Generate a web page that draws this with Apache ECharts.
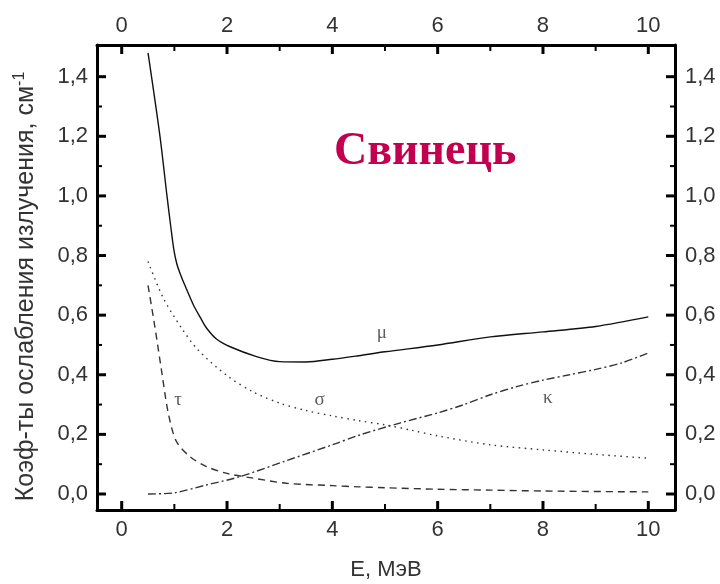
<!DOCTYPE html>
<html><head><meta charset="utf-8">
<script src="https://cdn.jsdelivr.net/npm/echarts@6/dist/echarts.min.js"></script>
<style>html,body{margin:0;padding:0;background:#fff}#c{width:720px;height:584px}</style>
</head><body><div id="c"></div>
<script>
// Energy E (MeV) and attenuation coefficients (cm^-1) for lead
var muData = [[0.5,1.48],[0.727,1.20],[0.86,1.00],[0.93,0.90],[0.99,0.82],[1.05,0.77],[1.12,0.735],[1.2,0.70],[1.36,0.635],[1.5,0.59],[1.61,0.557],[1.8,0.52],[2.06,0.494],[2.56,0.461],[3,0.444],[3.5,0.443],[4,0.452],[4.5,0.464],[5,0.477],[6,0.50],[7,0.527],[8,0.544],[9,0.562],[10,0.594]];
var sigmaData = [[0.5,0.78],[0.79,0.657],[1.14,0.556],[1.45,0.483],[2,0.397],[2.5,0.342],[3,0.305],[3.5,0.28],[4,0.262],[4.5,0.246],[5,0.232],[5.5,0.214],[6,0.195],[7,0.165],[8,0.148],[9,0.133],[10,0.12]];
var tauData = [[0.5,0.70],[0.63,0.561],[0.76,0.41],[0.885,0.271],[1.04,0.176],[1.3,0.125],[1.61,0.092],[2,0.069],[2.5,0.053],[3.13,0.036],[4,0.028],[4.5,0.024],[5,0.021],[6,0.016],[7,0.013],[8,0.01],[10,0.007]];
var kappaData = [[0.5,0],[1,0.004],[1.6,0.03],[2.24,0.058],[3.13,0.112],[4,0.165],[4.52,0.198],[5.28,0.238],[6,0.272],[6.5,0.30],[7,0.333],[7.5,0.36],[8,0.382],[8.5,0.40],[9,0.418],[9.5,0.44],[10,0.473]];
var curveLabels = [[4.94,0.54,'μ'],[3.76,0.315,'σ'],[1.07,0.315,'τ'],[8.09,0.322,'κ']];
var xMajorTicks = [0,2,4,6,8,10];
var xMinorTicks = [1,3,5,7,9];
var yMajorTicks = [0,0.2,0.4,0.6,0.8,1.0,1.2,1.4];
var yMinorTicks = [0.1,0.3,0.5,0.7,0.9,1.1,1.3];
var titleText = 'Свинець';
var yName = 'Коэф-ты ослабления излучения, см{sup|-1}';
var xName = 'E, МэВ';

var X_MIN = -0.469, X_MAX = 10.507, Y_MIN = -0.0537, Y_MAX = 1.5063;
var FONT = 'Liberation Sans, Arial, sans-serif';
var TXT = '#333';
function fmtY(v){ return v.toFixed(1).replace('.', ','); }

function xAx(pos, margin){
  return {type:'value', position:pos, min:X_MIN, max:X_MAX,
    axisLine:{show:true, onZero:false, lineStyle:{color:'#000', width:3}},
    axisTick:{show:false},
    axisLabel:{show:true, customValues:xMajorTicks, margin:margin, fontFamily:FONT, fontSize:22, color:TXT},
    splitLine:{show:false}};
}
function yAx(pos, margin){
  return {type:'value', position:pos, min:Y_MIN, max:Y_MAX,
    axisLine:{show:true, onZero:false, lineStyle:{color:'#000', width:3}},
    axisTick:{show:false},
    axisLabel:{show:true, customValues:yMajorTicks, margin:margin, formatter:fmtY, fontFamily:FONT, fontSize:22, color:TXT},
    splitLine:{show:false}};
}
var bottomX = xAx('bottom', 9);
bottomX.name = xName; bottomX.nameLocation = 'middle'; bottomX.nameGap = 49;
bottomX.nameTextStyle = {fontFamily:FONT, fontSize:22, color:TXT};
var leftY = yAx('left', 9);
leftY.name = yName; leftY.nameLocation = 'middle'; leftY.nameGap = 57;
leftY.nameTextStyle = {fontFamily:FONT, fontSize:25, color:TXT, padding:[0,18,0,0],
  rich:{sup:{fontFamily:FONT, fontSize:16, color:TXT, verticalAlign:'top', padding:[0,0,12,0]}}};

// tick marks drawn inward from the frame, placed through the axes' scales
function tickRows(vals, major, isY){
  return vals.map(function(v){ return isY ? [X_MIN, v, major, 1] : [v, Y_MIN, major, 0]; });
}
var tickData = tickRows(xMajorTicks,1,false).concat(tickRows(xMinorTicks,0,false), tickRows(yMajorTicks,1,true), tickRows(yMinorTicks,0,true));
function renderTick(params, api){
  var major = api.value(2), isY = api.value(3);
  var len = major ? 9 : (isY ? 5 : 6), w = major ? 3 : 2;
  var a, b, st = {stroke:'#000', lineWidth:w};
  if (isY) {
    var v = api.value(1);
    a = api.coord([X_MIN, v]); b = api.coord([X_MAX, v]);
    return {type:'group', children:[
      {type:'line', shape:{x1:a[0], y1:a[1], x2:a[0]+len, y2:a[1]}, style:st},
      {type:'line', shape:{x1:b[0], y1:b[1], x2:b[0]-len, y2:b[1]}, style:st}]};
  }
  var u = api.value(0);
  a = api.coord([u, Y_MIN]); b = api.coord([u, Y_MAX]);
  return {type:'group', children:[
    {type:'line', shape:{x1:a[0], y1:a[1], x2:a[0], y2:a[1]-len}, style:st},
    {type:'line', shape:{x1:b[0], y1:b[1], x2:b[0], y2:b[1]+len}, style:st}]};
}

function line(name, data, type, color){
  return {name:name, type:'line', data:data, xAxisIndex:0, yAxisIndex:0, showSymbol:false, symbol:'none', smooth:0.3,
    lineStyle:{color:color, width:1.4, type:type}, silent:true, z:3};
}
var chart = echarts.init(document.getElementById('c'), null, {renderer:'canvas'});
chart.setOption({
  animation:false,
  backgroundColor:'#fff',
  title:{text:titleText, left:329, top:124, textStyle:{fontFamily:'Liberation Serif, Times New Roman, serif', fontWeight:'bold', fontSize:46, color:'#c2004f'}},
  grid:{left:97, right:45, top:45, bottom:74, outerBoundsMode:'none', containLabel:false},
  xAxis:[bottomX, xAx('top', 8)],
  yAxis:[leftY, yAx('right', 10)],
  series:[
    line('μ', muData, 'solid', '#111'),
    line('σ', sigmaData, [1.5,4.5], '#333'),
    line('τ', tauData, [7,5], '#333'),
    line('κ', kappaData, [8,3,2,3], '#333'),
    {type:'scatter', xAxisIndex:0, yAxisIndex:0, data:curveLabels, symbolSize:0, silent:true,
      label:{show:true, position:'inside', formatter:function(p){return p.data[2];}, fontFamily:'Liberation Serif, Times New Roman, serif', fontSize:19, color:'#333'}},
    {type:'custom', name:'ticks', xAxisIndex:0, yAxisIndex:0, data:tickData, encode:{x:0, y:1}, renderItem:renderTick, silent:true, clip:false, z:5}
  ]
});
</script></body></html>
